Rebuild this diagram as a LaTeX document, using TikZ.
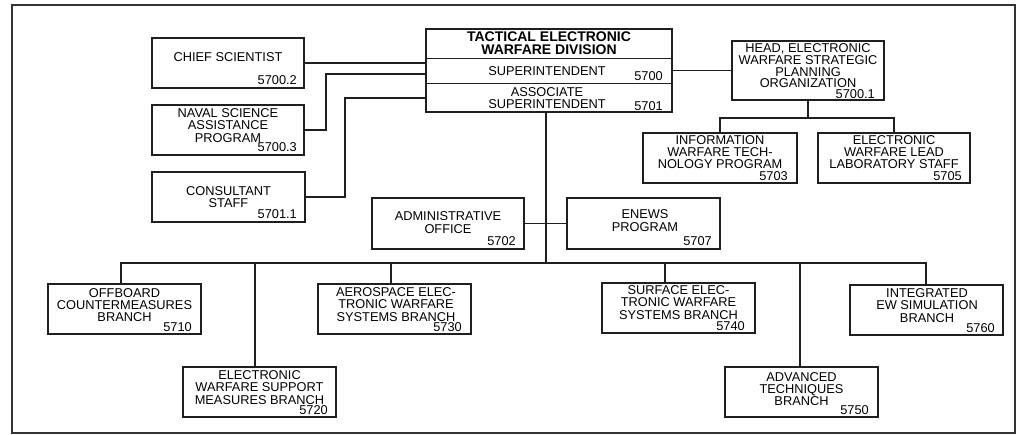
\documentclass[tikz,border=0pt]{standalone}
\usepackage{fontspec}
\setmainfont{Liberation Sans}
\usetikzlibrary{calc}
\begin{document}
\begin{tikzpicture}[x=1pt,y=-1pt,
  box/.style={draw=black!88, line width=1.1pt, anchor=north west, inner sep=0pt, outer sep=0pt},
  txt/.style={align=center, inner sep=0pt, font=\fontsize{12.8}{12.3}\selectfont},
  num/.style={anchor=base east, inner sep=0pt, font=\fontsize{12.8}{12.3}\selectfont},
  ttl/.style={align=center, inner sep=0pt, font=\fontsize{14}{13}\selectfont\bfseries},
  conn/.style={line width=1.1pt, draw=black!88}]
\useasboundingbox (0,0) rectangle (1018,435);
\draw[line width=2.2pt, draw=black!80] (12,5) rectangle (1015,433);

% boxes
\node[box, minimum width=152pt, minimum height=50pt] (chief) at (152,38) {};
\node[box, minimum width=152pt, minimum height=50pt] (naval) at (152,105) {};
\node[box, minimum width=153pt, minimum height=50pt] (consult) at (152,172) {};
\node[box, minimum width=246pt, minimum height=83pt] (div) at (426,29) {};
\node[box, minimum width=152pt, minimum height=59pt] (head) at (732,41) {};
\node[box, minimum width=154pt, minimum height=50pt] (info) at (643,133) {};
\node[box, minimum width=152pt, minimum height=50pt] (lead) at (818,133) {};
\node[box, minimum width=152pt, minimum height=51pt] (admin) at (372,198) {};
\node[box, minimum width=153pt, minimum height=51pt] (enews) at (567,198) {};
\node[box, minimum width=153pt, minimum height=50pt] (offb) at (48,284) {};
\node[box, minimum width=153pt, minimum height=50pt] (ewsm) at (183,367) {};
\node[box, minimum width=153pt, minimum height=50pt] (aero) at (318,284) {};
\node[box, minimum width=153pt, minimum height=50pt] (surf) at (602,283) {};
\node[box, minimum width=153pt, minimum height=50pt] (adv) at (725,367) {};
\node[box, minimum width=153pt, minimum height=50pt] (integ) at (850,285) {};

% dividers of the division box
\draw[conn] ($(div.north west)+(0,29.5)$) -- ($(div.north east)+(0,29.5)$);
\draw[conn] ($(div.north west)+(0,54.5)$) -- ($(div.north east)+(0,54.5)$);

% texts
\node[txt] (chiefT) at (228,57) {CHIEF SCIENTIST};
\node[txt] (navalT) at (228,125.5) {NAVAL SCIENCE\\ASSISTANCE\\PROGRAM};
\node[txt] (consultT) at (228.5,197) {CONSULTANT\\STAFF};
\node[ttl] (divT) at (549,43.5) {TACTICAL ELECTRONIC\\WARFARE DIVISION};
\node[txt] (supT) at (547,71.5) {SUPERINTENDENT};
\node[txt] (assocT) at (547,98) {ASSOCIATE\\SUPERINTENDENT};
\node[txt, font=\fontsize{12.8}{11.7}\selectfont] (headT) at (808,66) {HEAD, ELECTRONIC\\WARFARE STRATEGIC\\PLANNING\\ORGANIZATION};
\node[txt, font=\fontsize{12.8}{12}\selectfont] (infoT) at (720,152) {INFORMATION\\WARFARE TECH-\\NOLOGY PROGRAM};
\node[txt, font=\fontsize{12.8}{12}\selectfont] (leadT) at (894,152) {ELECTRONIC\\WARFARE LEAD\\LABORATORY STAFF};
\node[txt] (adminT) at (448,222.5) {ADMINISTRATIVE\\OFFICE};
\node[txt] (enewsT) at (645,220.5) {ENEWS\\PROGRAM};
\node[txt] (offbT) at (124.5,305) {OFFBOARD\\COUNTERMEASURES\\BRANCH};
\node[txt] (aeroT) at (396,304.5) {AEROSPACE ELEC-\\TRONIC WARFARE\\SYSTEMS BRANCH};
\node[txt] (ewsmT) at (259.5,387.5) {ELECTRONIC\\WARFARE SUPPORT\\MEASURES BRANCH};
\node[txt] (surfT) at (678.5,302.5) {SURFACE ELEC-\\TRONIC WARFARE\\SYSTEMS BRANCH};
\node[txt] (advT) at (801.5,389) {ADVANCED\\TECHNIQUES\\BRANCH};
\node[txt] (integT) at (927,305.5) {INTEGRATED\\EW SIMULATION\\BRANCH};

% numbers
\node[num] (chiefN) at ($(chief.south east)+(-7,-3.5)$) {5700.2};
\node[num] (navalN) at ($(naval.south east)+(-7,-3)$) {5700.3};
\node[num] (consultN) at ($(consult.south east)+(-8,-3)$) {5701.1};
\node[num] (supN) at ($(div.north east)+(-9,52)$) {5700};
\node[num] (assocN) at ($(div.south east)+(-9,-1.5)$) {5701};
\node[num] (headN) at ($(head.south east)+(-9,-1)$) {5700.1};
\node[num] (infoN) at ($(info.south east)+(-9,-2)$) {5703};
\node[num] (leadN) at ($(lead.south east)+(-8,-2)$) {5705};
\node[num] (adminN) at ($(admin.south east)+(-8,-3)$) {5702};
\node[num] (enewsN) at ($(enews.south east)+(-8,-3)$) {5707};
\node[num] (offbN) at ($(offb.south east)+(-9,-2)$) {5710};
\node[num] (ewsmN) at ($(ewsm.south east)+(-8,-2)$) {5720};
\node[num] (aeroN) at ($(aero.south east)+(-9,-2)$) {5730};
\node[num] (surfN) at ($(surf.south east)+(-10,-2)$) {5740};
\node[num] (advN) at ($(adv.south east)+(-9,-2)$) {5750};
\node[num] (integN) at ($(integ.south east)+(-8,-2.5)$) {5760};

% connectors, staff side
\draw[conn] (chief.east) -- (chief.east -| div.west);
\draw[conn] (naval.east) -- ++(22,0) |- ($(div.north west)+(0,45)$);
\draw[conn] (consult.east) -- ++(40,0) |- ($(div.north west)+(0,69)$);
\draw[conn] (div.east) -- (head.west);
\coordinate (hb) at ($(head.south)+(0,18)$);
\draw[conn] (head.south) -- (hb);
\draw[conn] (info.north) |- (hb) -| (lead.north);

% trunk and branches
\coordinate (tt) at ($(div.south)+(-3,0)$);
\coordinate (tb) at ($(tt)+(0,151)$);
\draw[conn] (tt) -- (tb);
\draw[conn] (admin.east) -- (enews.west);
\coordinate (offbC) at ($(offb.north)+(-3.5,0)$);
\coordinate (ewsmC) at ($(ewsm.north)+(-4.5,0)$);
\coordinate (aeroC) at ($(aero.north)+(-3.5,0)$);
\coordinate (surfC) at ($(surf.north)+(-13.5,0)$);
\coordinate (advC) at ($(adv.north)+(-1.5,0)$);
\coordinate (integC) at ($(integ.north)+(-0.5,0)$);
\draw[conn] (offbC) -- (offbC |- tb) -- (integC |- tb) -- (integC);
\draw[conn] (ewsmC) -- (ewsmC |- tb);
\draw[conn] (aeroC) -- (aeroC |- tb);
\draw[conn] (surfC) -- (surfC |- tb);
\draw[conn] (advC) -- (advC |- tb);
\end{tikzpicture}
\end{document}
